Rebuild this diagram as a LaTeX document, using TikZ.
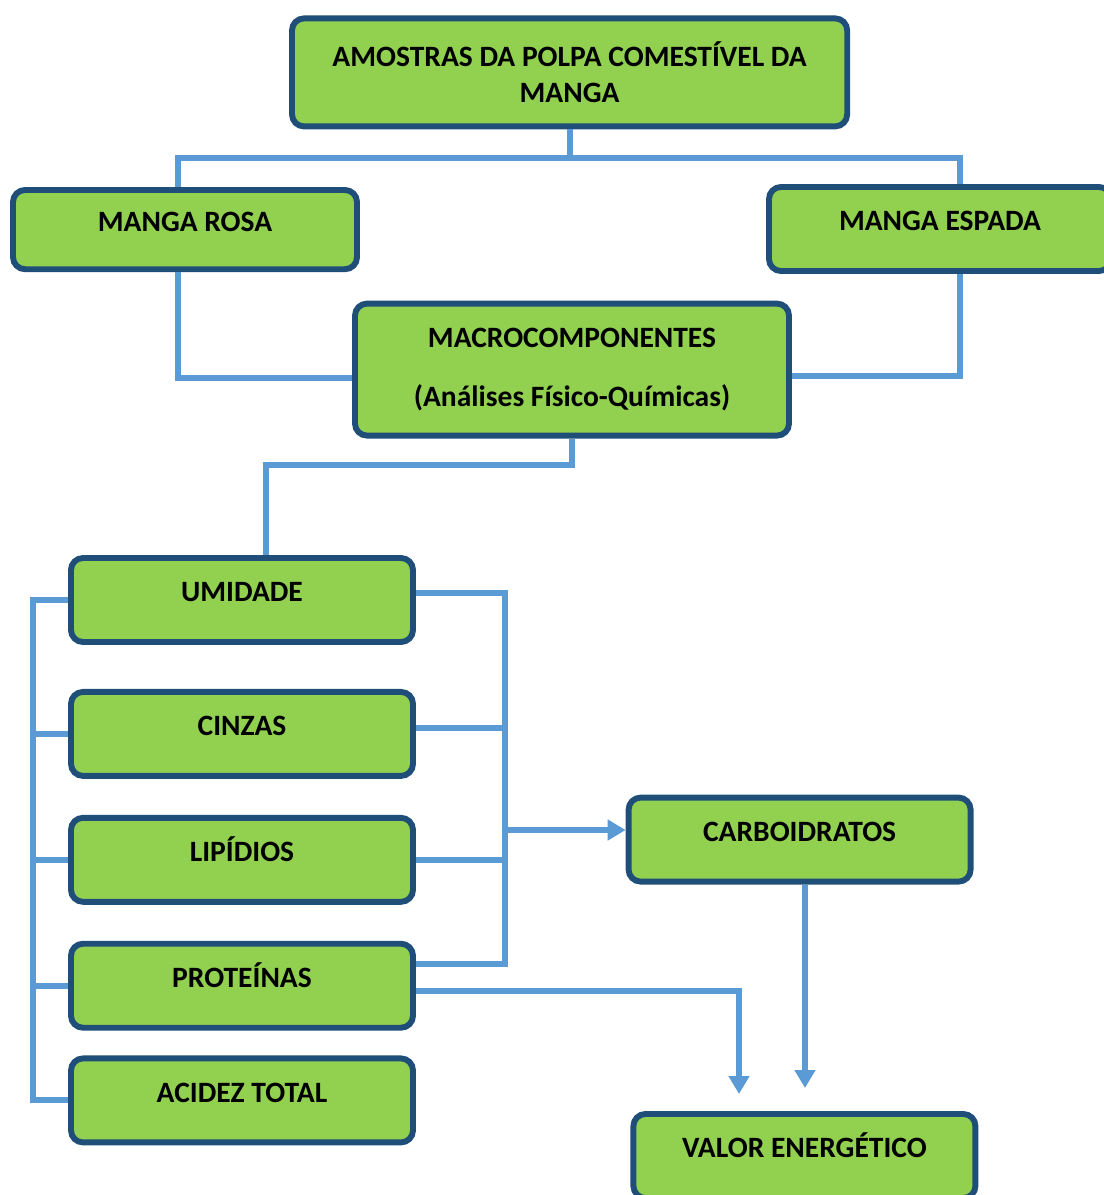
\documentclass[tikz,border=0pt]{standalone}
\usepackage{fontspec}
\setmainfont{Carlito}
\usepackage{xcolor}
\definecolor{LeafGreen}{HTML}{92D050}
\definecolor{FrameBlue}{HTML}{1F4E79}
\definecolor{LinkBlue}{HTML}{5B9BD5}
\usepackage{tikz}
\usetikzlibrary{arrows.meta, positioning, calc}
\tikzstyle{block} = [rectangle, draw=FrameBlue, fill=LeafGreen, text=black, minimum width=8.55cm, minimum height=2.1cm, text centered, rounded corners=0.3cm, line width=4.2pt, align=center, font=\fontsize{21}{26}\selectfont\bfseries]
\tikzstyle{leaf} = [block, text height=0.47cm, text depth=0.38cm]
\tikzstyle{line} = [-, color=LinkBlue, line width=4.2pt]
\tikzstyle{arrow} = [line, ->, >={Triangle[length=0.45cm, width=0.5cm]}]

\begin{document}
\begin{tikzpicture}[node distance=1.2cm, auto]
        \useasboundingbox (0,0) rectangle (27.6,-29.875);

        % --- samples ---
        \node [block, minimum width=13.88cm, minimum height=2.7cm] at (14.24,-1.81) (top) {AMOSTRAS DA POLPA COMESTÍVEL DA\\MANGA};

        % --- varieties ---
        \node [leaf, minimum width=8.6cm, minimum height=1.98cm] at (4.625,-5.74) (rosa) {MANGA ROSA};
        \node [leaf] at (23.5,-5.725) (espada) {MANGA ESPADA};

        % --- macro components ---
        \node [block, minimum width=10.85cm, minimum height=3.3cm] at (14.3,-9.24) (macro) {MACROCOMPONENTES\\[0.58cm](Análises Físico-Químicas)};

        % --- analyses ---
        \node [leaf] at (6.05,-15.0) (umidade) {UMIDADE};
        \node [leaf, below=1.1cm of umidade] (cinzas) {CINZAS};
        \node [leaf, below=0.9cm of cinzas] (lipidios) {LIPÍDIOS};
        \node [leaf, below=0.9cm of lipidios] (proteinas) {PROTEÍNAS};
        \node [leaf, below=0.62cm of proteinas] (acidez) {ACIDEZ TOTAL};

        % --- results ---
        \node [leaf] at (19.99,-20.99) (carbo) {CARBOIDRATOS};
        \node [leaf] at (20.11,-28.9) (valor) {VALOR ENERGÉTICO};

        % Junctions and bus lines
        \coordinate (tj) at ($(top.south)+(0,-0.72)$);
        \coordinate (mj) at ($(macro.south)+(0,-0.66)$);
        \coordinate (lbus) at (0.83,0);
        \coordinate (rbus) at (12.625,0);
        \coordinate (u1) at ($(umidade.east)+(0,0.18)$);
        \coordinate (c1) at ($(cinzas.east)+(0,0.14)$);
        \coordinate (p1) at ($(proteinas.east)+(0,0.54)$);
        \coordinate (p2) at ($(proteinas.east)+(0,-0.14)$);
        \coordinate (k1) at ($(carbo.west)+(0,0.24)$);
        \coordinate (v1) at (18.475,-27.35);
        \coordinate (v2) at (20.125,-27.2);

        % Connect samples to varieties
        \draw [line] (top.south) -- (tj);
        \draw [line] ($(rosa.north)+(-0.18,0)$) |- (tj) -| ($(espada.north)+(0.5,0)$);

        % Connect varieties to macro components
        \draw [line] ($(rosa.south)+(-0.18,0)$) |- ($(macro.west)+(0,-0.21)$);
        \draw [line] ($(espada.south)+(0.5,0)$) |- ($(macro.east)+(0,-0.16)$);
        \draw [line] (macro.south) -- (mj) -| ($(umidade.north)+(0.6,0)$);

        % Left bus
        \draw [line] (umidade.west) -- (umidade.west -| lbus) -- (acidez.west -| lbus) -- (acidez.west);
        \draw [line] (cinzas.west) -- (cinzas.west -| lbus);
        \draw [line] (lipidios.west) -- (lipidios.west -| lbus);
        \draw [line] (proteinas.west) -- (proteinas.west -| lbus);

        % Right bus
        \draw [line] (u1) -- (u1 -| rbus) -- (p1 -| rbus) -- (p1);
        \draw [line] (c1) -- (c1 -| rbus);
        \draw [line] (lipidios.east) -- (lipidios.east -| rbus);
        \draw [arrow] (k1 -| rbus) -- (k1);

        % Energy value
        \draw [arrow] (p2) -| (v1);
        \draw [arrow] (carbo.south -| v2) -- (v2);
\end{tikzpicture}
\end{document}
